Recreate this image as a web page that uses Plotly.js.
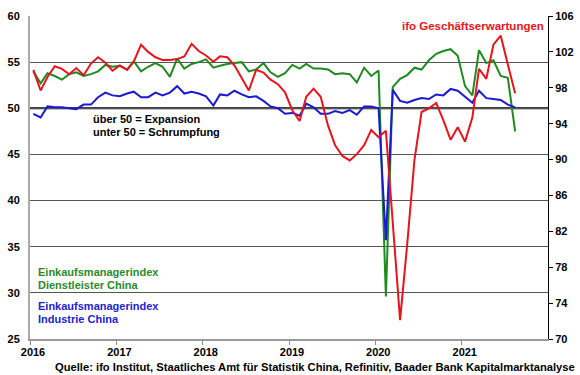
<!DOCTYPE html>
<html>
<head>
<meta charset="utf-8">
<script src="https://cdn.plot.ly/plotly-3.0.1.min.js"></script>
<style>
  html, body { margin: 0; padding: 0; background: #ffffff; }
  #chart { width: 580px; height: 375px; }
</style>
</head>
<body>
<div id="chart"></div>
<script>
// Monthly observations, Jan 2016 – Aug 2021
const months = [
  '2016-01','2016-02','2016-03','2016-04','2016-05','2016-06','2016-07','2016-08','2016-09','2016-10','2016-11','2016-12',
  '2017-01','2017-02','2017-03','2017-04','2017-05','2017-06','2017-07','2017-08','2017-09','2017-10','2017-11','2017-12',
  '2018-01','2018-02','2018-03','2018-04','2018-05','2018-06','2018-07','2018-08','2018-09','2018-10','2018-11','2018-12',
  '2019-01','2019-02','2019-03','2019-04','2019-05','2019-06','2019-07','2019-08','2019-09','2019-10','2019-11','2019-12',
  '2020-01','2020-02','2020-03','2020-04','2020-05','2020-06','2020-07','2020-08','2020-09','2020-10','2020-11','2020-12',
  '2021-01','2021-02','2021-03','2021-04','2021-05','2021-06','2021-07','2021-08'
];

// Einkaufsmanagerindex Industrie China (left axis)
const pmiIndustrie = [
  49.4, 49.0, 50.2, 50.1, 50.1, 50.0, 49.9, 50.4, 50.4, 51.2, 51.7, 51.4,
  51.3, 51.6, 51.8, 51.2, 51.2, 51.7, 51.4, 51.7, 52.4, 51.6, 51.8, 51.6,
  51.3, 50.3, 51.5, 51.4, 51.9, 51.5, 51.2, 51.3, 50.8, 50.2, 50.0, 49.4,
  49.5, 49.2, 50.5, 50.1, 49.4, 49.4, 49.7, 49.5, 49.8, 49.3, 50.2, 50.2,
  50.0, 35.7, 52.0, 50.8, 50.6, 50.9, 51.1, 51.0, 51.5, 51.4, 52.1, 51.9,
  51.3, 50.6, 51.9, 51.1, 51.0, 50.9, 50.4, 50.1
];

// Einkaufsmanagerindex Dienstleister China (left axis)
const pmiDienstleister = [
  54.0, 52.7, 53.8, 53.5, 53.1, 53.7, 53.9, 53.5, 53.7, 54.0, 54.7, 54.5,
  54.6, 54.2, 55.1, 54.0, 54.5, 54.9, 54.5, 53.4, 55.4, 54.3, 54.8, 55.0,
  55.3, 54.4, 54.6, 54.8, 54.9, 55.0, 54.0, 54.2, 54.9, 53.9, 53.4, 53.8,
  54.7, 54.3, 54.8, 54.3, 54.3, 54.2, 53.7, 53.8, 53.7, 52.8, 54.4, 53.5,
  54.1, 29.6, 52.3, 53.2, 53.6, 54.4, 54.2, 55.2, 55.9, 56.2, 56.4, 55.7,
  52.4, 51.4, 56.3, 54.9, 55.2, 53.5, 53.3, 47.5
];

// ifo Geschäftserwartungen (right axis)
const ifoErwartungen = [
  100.0, 97.7, 99.2, 100.4, 100.1, 99.5, 100.2, 99.4, 100.7, 101.4, 100.8, 99.9,
  100.5, 100.0, 100.9, 102.8, 102.0, 101.4, 101.1, 101.1, 101.2, 101.5, 102.9, 102.1,
  101.6, 100.9, 101.5, 101.4, 100.5, 99.0, 97.7, 100.0, 99.7, 98.9, 98.4, 97.5,
  95.5, 94.3, 97.0, 97.9, 97.0, 93.8, 91.6, 90.4, 89.9, 90.6, 91.6, 93.3,
  92.5, 93.2, 83.0, 72.1, 80.5, 90.0, 95.3, 95.7, 96.3, 94.4, 92.2, 93.6,
  92.0, 94.7, 100.1, 99.0, 102.8, 103.8, 100.6, 97.4
];

const yearTicks = ['2016-01-01','2017-01-01','2018-01-01','2019-01-01','2020-01-01','2021-01-01'];
const yearLabels = ['2016','2017','2018','2019','2020','2021'];
const leftTicks = [25, 30, 35, 40, 45, 50, 55, 60];
const rightTicks = [70, 74, 78, 82, 86, 90, 94, 98, 102, 106];

const xDates = months.map(m => m + '-15');
const FONT = 'Liberation Sans, Arial, sans-serif';
const RED = '#e8141c', GREEN = '#1f8a1f', BLUE = '#1a1ad2';

const traces = [
  { x: xDates, y: ifoErwartungen, yaxis: 'y2', type: 'scatter', mode: 'lines',
    line: { color: RED, width: 2 }, hoverinfo: 'skip' },
  { x: xDates, y: pmiDienstleister, yaxis: 'y', type: 'scatter', mode: 'lines',
    line: { color: GREEN, width: 2 }, hoverinfo: 'skip' },
  { x: xDates, y: pmiIndustrie, yaxis: 'y', type: 'scatter', mode: 'lines',
    line: { color: BLUE, width: 2 }, hoverinfo: 'skip' }
];

const tickFont = { family: FONT, size: 11, color: '#000', weight: 'bold' };
function ann(text, x, y, color, xanchor, size) {
  return { text: text, xref: 'paper', yref: 'paper', x: x, y: y, xanchor: xanchor, yanchor: 'middle',
           showarrow: false, font: { family: FONT, size: size || 11, color: color, weight: 'bold' } };
}
// paper coords helpers (plot area: x 30..548, y 16..339)
const px = v => (v - 30) / 518;
const py = v => (339 - v) / 323;

const layout = {
  width: 580, height: 375,
  margin: { l: 30, r: 32, t: 16, b: 36 },
  paper_bgcolor: '#fff', plot_bgcolor: '#fff',
  showlegend: false,
  xaxis: {
    type: 'date', range: ['2016-01-01', '2022-01-01'],
    tickvals: yearTicks, ticktext: yearLabels,
    ticks: 'outside', ticklen: 4, tickcolor: '#888', tickwidth: 1,
    showline: true, linecolor: '#999', linewidth: 1.5,
    showgrid: false, zeroline: false, tickfont: tickFont,
    ticklabelshift: 3, ticklabelstandoff: -2
  },
  yaxis: {
    range: [25, 60], tickvals: leftTicks,
    showgrid: true, gridcolor: '#555', gridwidth: 1,
    showline: true, linecolor: '#aaa', linewidth: 2,
    ticks: 'outside', ticklen: 6, tickcolor: 'rgba(0,0,0,0)',
    zeroline: false, tickfont: tickFont
  },
  yaxis2: {
    range: [70, 106], tickvals: rightTicks, overlaying: 'y', side: 'right',
    showgrid: false, showline: true, linecolor: '#000', linewidth: 1,
    ticks: 'outside', ticklen: 4, tickcolor: '#000',
    zeroline: false, tickfont: tickFont
  },
  shapes: [
    { type: 'line', xref: 'paper', yref: 'y', x0: 0, x1: 1, y0: 50, y1: 50,
      line: { color: '#000', width: 2 }, layer: 'below' }
  ],
  annotations: [
    ann('ifo Geschäftserwartungen', px(546), py(26), RED, 'right', 11.5),
    ann('über 50 = Expansion', px(91), py(119), '#000', 'left'),
    ann('unter 50 = Schrumpfung', px(91), py(132), '#000', 'left'),
    ann('Einkaufsmanagerindex', px(36), py(272), '#2a8a2a', 'left'),
    ann('Dienstleister China', px(36), py(284.5), '#2a8a2a', 'left'),
    ann('Einkaufsmanagerindex', px(36), py(306), '#2323cc', 'left'),
    ann('Industrie China', px(36), py(319), '#2323cc', 'left'),
    ann('Quelle: ifo Institut, Staatliches Amt für Statistik China, Refinitiv, Baader Bank Kapitalmarktanalyse',
        px(577), py(367.5), '#000', 'right', 11.2)
  ]
};

Plotly.newPlot('chart', traces, layout, { displayModeBar: false, staticPlot: true });
</script>
</body>
</html>
